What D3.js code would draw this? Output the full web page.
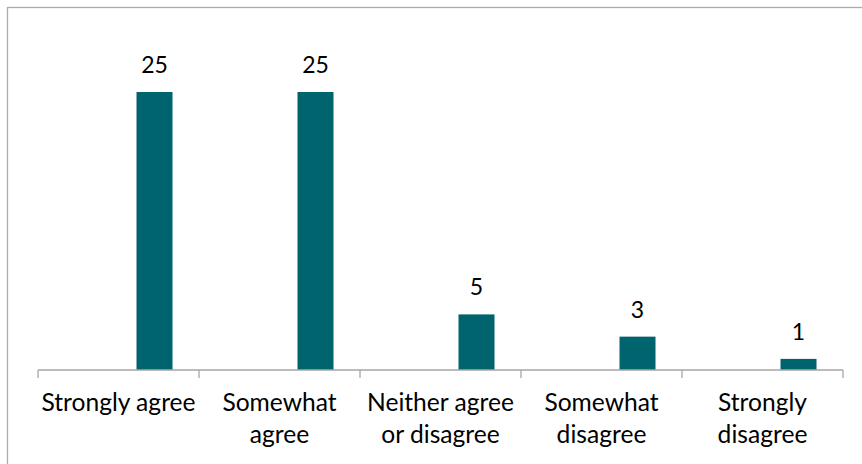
<!DOCTYPE html>
<html><head><meta charset="utf-8">
<script src="https://cdn.jsdelivr.net/npm/d3@7"></script>
<style>html,body{margin:0;padding:0;background:#fff;}svg{display:block;}</style>
</head><body>
<script>
const categories = [["Strongly agree"],["Somewhat","agree"],["Neither agree","or disagree"],["Somewhat","disagree"],["Strongly","disagree"]];
const values = [25,25,5,3,1];

const W=862,H=464;
const svg=d3.select("body").append("svg").attr("width",W).attr("height",H);
svg.append("rect").attr("x",7.5).attr("y",7.5).attr("width",W+10).attr("height",H+10)
  .attr("fill","none").attr("stroke","#ababab").attr("stroke-width",1.3);

const left=38,right=843,base=370;
const keys=categories.map((c,i)=>i);
const x=d3.scaleBand().domain(keys).range([left,right]).paddingInner(0).paddingOuter(0);
const inner=d3.scaleBand().domain([0,1,2]).range([0,x.bandwidth()]).paddingInner(0).paddingOuter(0.736);
const y=d3.scaleLinear().domain([0,30]).range([base,base-333.6]);
const font="Lato, 'Liberation Sans', sans-serif";

svg.selectAll("rect.bar").data(values).enter().append("rect").attr("class","bar")
  .attr("x",(d,i)=>x(i)+inner(2)).attr("width",inner.bandwidth())
  .attr("y",d=>y(d)).attr("height",d=>base-y(d)).attr("fill","#00646f");

svg.selectAll("text.val").data(values).enter().append("text").attr("class","val")
  .attr("x",(d,i)=>x(i)+inner(2)+inner.bandwidth()/2).attr("y",d=>y(d)-19)
  .attr("text-anchor","middle").attr("font-family",font).attr("font-size",23).attr("fill","#000").text(d=>d);

// axis
const g=svg.append("g").attr("stroke","#a6a6a6").attr("stroke-width",1.3);
g.append("line").attr("x1",left).attr("x2",right).attr("y1",base).attr("y2",base);
const bounds=keys.map(k=>x(k)).concat([right]);
g.selectAll("line.tick").data(bounds).enter().append("line")
  .attr("x1",d=>d).attr("x2",d=>d).attr("y1",base).attr("y2",base+8);

const lab=svg.selectAll("text.cat").data(categories).enter().append("text").attr("class","cat")
  .attr("text-anchor","middle").attr("font-family",font).attr("font-size",24.6).attr("fill","#000");
lab.each(function(lines,i){
  const t=d3.select(this);
  lines.forEach((l,j)=>t.append("tspan").attr("x",x(i)+x.bandwidth()/2).attr("y",411+j*32).text(l));
});
</script>
</body></html>
